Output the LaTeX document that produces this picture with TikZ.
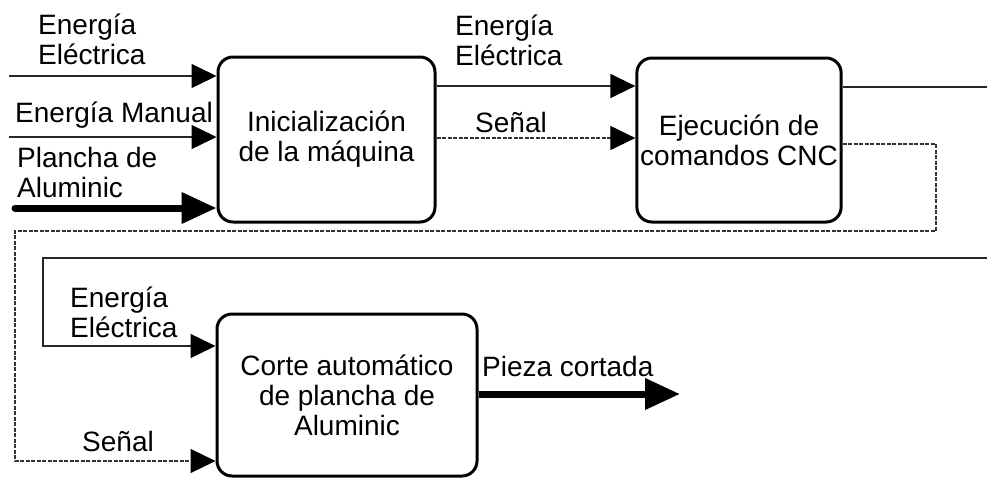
\documentclass[tikz,border=0pt]{standalone}
\usepackage{fontspec}
\setmainfont{Liberation Sans}
\usetikzlibrary{arrows.meta,calc}

\tikzset{
  proc/.style={draw,line width=3pt,rounded corners=15pt,align=center,
    font=\fontsize{28}{30}\selectfont},
  lbl/.style={anchor=base west,inner sep=0pt,align=left,
    font=\fontsize{28}{30}\selectfont},
  flow/.style={line width=1.5pt,draw=black!85,
    -{Triangle[length=25pt,width=24pt,color=black]}},
  sig/.style={line width=1.2pt,draw=black!80,dash pattern=on 4pt off 1.5pt,
    -{Triangle[length=25pt,width=24pt,color=black]}},
  matl/.style={line width=7pt,line cap=round,-{Triangle[length=35pt,width=30pt]}}
}

\begin{document}
\begin{tikzpicture}[x=1pt,y=-1pt]
\useasboundingbox (0,0) rectangle (987,477);

% Blocks
\node[proc,minimum width=217pt,minimum height=165pt] (ini) at (326.5,139.5)
  {Inicialización\\de la máquina};
\node[proc,minimum width=204pt,minimum height=164pt] (eje) at (739,140)
  {Ejecución de\\comandos CNC};
\node[proc,minimum width=260pt,minimum height=162pt] (cor) at (347,395)
  {Corte automático\\de plancha de\\Aluminic};

% Inputs of first block
\coordinate (in1) at (9,76);
\coordinate (in2) at (9,137);
\coordinate (in3) at (15,208);
\draw[flow] (in1) -- (in1 -| ini.west);
\draw[flow] (in2) -- (in2 -| ini.west);
\draw[matl] (in3) -- (in3 -| ini.west);
\node[lbl] (lE1) at (38,64) {Energía\\Eléctrica};
\node[lbl] (lM) at (15,122) {Energía Manual};
\node[lbl] (lP) at (17,197) {Plancha de\\Aluminic};

% First block to second block
\coordinate (eA) at (0,86);
\coordinate (sA) at (0,138);
\draw[flow] (ini.east |- eA) -- (eje.west |- eA);
\draw[sig] (ini.east |- sA) -- (eje.west |- sA);
\node[lbl] (lE2) at (455,65) {Energía\\Eléctrica};
\node[lbl] (lS1) at (475,132) {Señal};

% Energy line leaving and coming back
\coordinate (outE) at (987,87);
\coordinate (inE) at (987,258);
\coordinate (c1) at (43,258);
\coordinate (eB) at (0,346);
\draw[line width=1.5pt,draw=black!85] (eje.east |- outE) -- (outE);
\draw[flow] (inE) -- (c1) |- (cor.west |- eB);
\node[lbl] (lE3) at (70,337) {Energía\\Eléctrica};

% Signal to third block
\coordinate (sB) at (0,144);
\coordinate (r1) at (936,231);
\coordinate (l1) at (15,231);
\coordinate (sC) at (0,461);
\draw[sig] (eje.east |- sB) -| (r1) -- (l1) |- (cor.west |- sC);
\node[lbl] (lS2) at (82,451) {Señal};

% Output
\coordinate (out) at (680,394);
\draw[matl,line cap=butt] (cor.east |- out) -- (out);
\node[lbl] (lO) at (482,376) {Pieza cortada};
\end{tikzpicture}
\end{document}
